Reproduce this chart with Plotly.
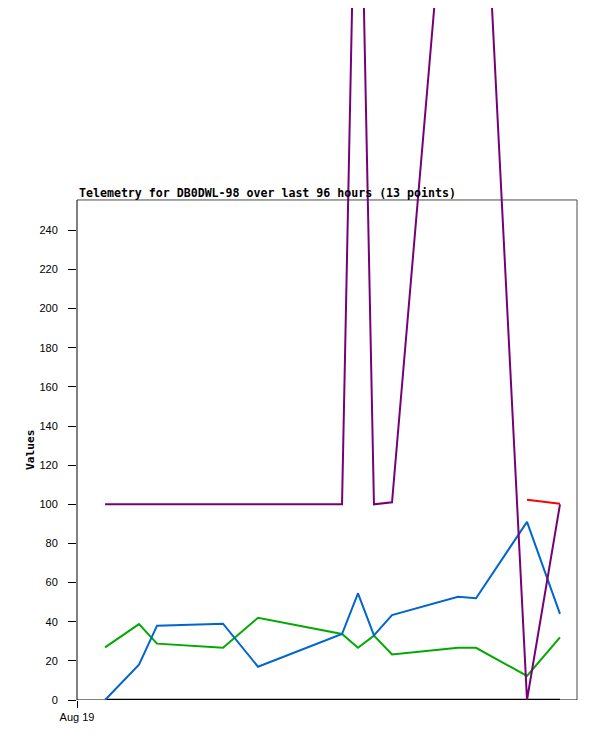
import plotly.graph_objects as go

# ---- data ----
times = [
    "2024-08-19 05:23", "2024-08-19 11:54", "2024-08-19 15:22", "2024-08-20 04:02",
    "2024-08-20 10:45", "2024-08-21 02:53", "2024-08-21 05:57", "2024-08-21 09:01",
    "2024-08-21 12:29", "2024-08-22 01:09", "2024-08-22 04:37", "2024-08-22 14:24",
    "2024-08-22 20:44",
]
black_vals = [0, 0, 0, 0, 0, 0, 0, 0, 0, 0, 0, 0, 0]
green_vals = [26.9, 38.8, 28.8, 26.7, 42.0, 33.7, 26.7, 32.9, 23.3, 26.7, 26.7, 12.3, 32.0]
blue_vals = [0.0, 18.0, 38.0, 39.0, 17.0, 33.7, 54.5, 33.0, 43.4, 52.8, 52.0, 91.0, 44.0]
red_vals = [None, None, None, None, None, None, None, None, None, None, None, 102.3, 100.3]
purple_vals = [100, 100, 100, 100, 100, 100, 504, 100, 101, 496, 515, 0, 100]

y_ticks = [0, 20, 40, 60, 80, 100, 120, 140, 160, 180, 200, 220, 240]
x_tick_vals = ["2024-08-19 00:00"]
x_tick_text = ["Aug 19"]
title_text = "Telemetry for DB0DWL-98 over last 96 hours (13 points)"
y_title = "Values"

frame_top = 255.5       # top of the drawn chart frame (value units)
y_range = [0, 353.6]    # plotting area extends to top of the page so lines can overflow
x_range = ["2024-08-19 00:00", "2024-08-23 00:00"]

fig = go.Figure()
series = [
    (black_vals, "#000000", 2.5),
    (green_vals, "#00aa00", 2),
    (blue_vals, "#0066cc", 2),
    (red_vals, "#ff0000", 2),
    (purple_vals, "#770077", 2),
]
for vals, col, w in series:
    fig.add_trace(go.Scatter(x=times, y=vals, mode="lines",
                             line=dict(color=col, width=w, shape="linear"),
                             showlegend=False, hoverinfo="skip"))

fig.update_layout(
    width=589, height=733,
    margin=dict(l=69, r=20, t=0, b=41),
    paper_bgcolor="white", plot_bgcolor="white",
    font=dict(family="Liberation Sans", size=11, color="black"),
    xaxis=dict(range=x_range, type="date", tickvals=x_tick_vals, ticktext=x_tick_text,
               ticks="outside", ticklen=7, tickcolor="black", tickwidth=1,
               showgrid=False, zeroline=False, showline=False,
               tickfont=dict(family="Liberation Sans", size=11)),
    yaxis=dict(range=y_range, tickvals=y_ticks, ticks="outside", ticklen=8,
               tickcolor="black", tickwidth=1, showgrid=False, zeroline=False,
               showline=False, ticklabelstandoff=8,
               tickfont=dict(family="Liberation Sans", size=11)),
    shapes=[
        dict(type="line", xref="paper", yref="y", x0=0, x1=1, y0=frame_top, y1=frame_top,
             line=dict(color="#4a4a4a", width=1), layer="below"),
        dict(type="line", xref="paper", yref="y", x0=1, x1=1, y0=0, y1=frame_top,
             line=dict(color="#4a4a4a", width=1), layer="below"),
        dict(type="line", xref="paper", yref="y", x0=0, x1=0, y0=0, y1=frame_top,
             line=dict(color="black", width=1), layer="below"),
        dict(type="line", xref="paper", yref="y", x0=0, x1=1, y0=0, y1=0,
             line=dict(color="black", width=1), layer="below"),
    ],
    annotations=[
        dict(text="<b>" + title_text + "</b>", xref="paper", yref="y", x=0, y=frame_top,
             xanchor="left", yanchor="bottom", showarrow=False, yshift=-2,
             font=dict(family="DejaVu Sans Mono", size=11.6, color="black")),
        dict(text="<b>" + y_title + "</b>", xref="paper", yref="y", x=0, y=frame_top / 2,
             xanchor="center", yanchor="middle", xshift=-46, showarrow=False, textangle=-90,
             font=dict(family="DejaVu Sans Mono", size=11.2, color="black")),
    ],
)

fig.write_html("out.html")
